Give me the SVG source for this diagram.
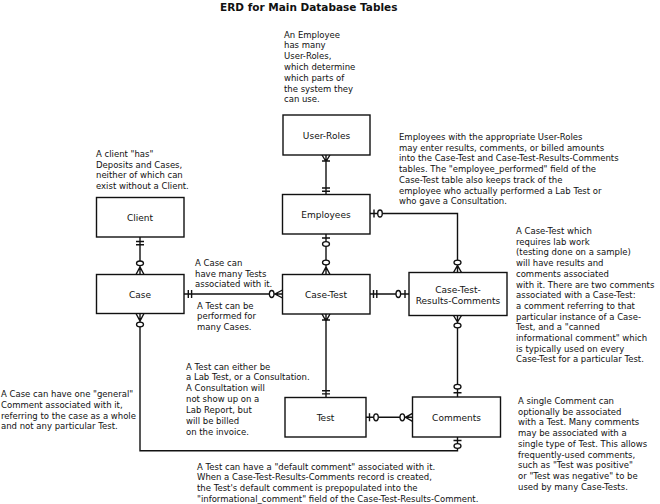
<svg xmlns="http://www.w3.org/2000/svg" width="660" height="504" viewBox="0 0 660 504">
<style>
text{font-family:"DejaVu Sans","Liberation Sans",sans-serif;fill:#111}
.note{font-size:8.5px}
.lbl{font-size:9px;text-anchor:middle}
.title{font-size:10.5px;font-weight:bold}
.box{fill:#fff;stroke:#111;stroke-width:1.4}
.ln{fill:none;stroke:#111;stroke-width:1.4}
.o{fill:#fff;stroke:#111;stroke-width:1.3}
</style>
<rect width="660" height="504" fill="#fff"/>
<text class="title" x="220" y="10.5">ERD for Main Database Tables</text>

<g id="notes" class="note">
<text x="284" y="37.5"><tspan x="284">An Employee</tspan><tspan x="284" dy="10.8">has many</tspan><tspan x="284" dy="10.8">User-Roles,</tspan><tspan x="284" dy="10.8">which determine</tspan><tspan x="284" dy="10.8">which parts of</tspan><tspan x="284" dy="10.8">the system they</tspan><tspan x="284" dy="10.8">can use.</tspan></text>
<text x="399" y="140"><tspan x="399">Employees with the appropriate User-Roles</tspan><tspan x="399" dy="10.7">may enter results, comments, or billed amounts</tspan><tspan x="399" dy="10.7">into the Case-Test and Case-Test-Results-Comments</tspan><tspan x="399" dy="10.7">tables. The "employee_performed" field of the</tspan><tspan x="399" dy="10.7">Case-Test table also keeps track of the</tspan><tspan x="399" dy="10.7">employee who actually performed a Lab Test or</tspan><tspan x="399" dy="10.7">who gave a Consultation.</tspan></text>
<text x="96" y="157"><tspan x="96">A client "has"</tspan><tspan x="96" dy="10.6">Deposits and Cases,</tspan><tspan x="96" dy="10.6">neither of which can</tspan><tspan x="96" dy="10.6">exist without a Client.</tspan></text>
<text x="195" y="266"><tspan x="195">A Case can</tspan><tspan x="195" dy="10.5">have many Tests</tspan><tspan x="195" dy="10.5">associated with it.</tspan></text>
<text x="197" y="308.5"><tspan x="197">A Test can be</tspan><tspan x="197" dy="10.7">performed for</tspan><tspan x="197" dy="10.7">many Cases.</tspan></text>
<text x="516" y="234"><tspan x="516">A Case-Test which</tspan><tspan x="516" dy="10.7">requires lab work</tspan><tspan x="516" dy="10.7">(testing done on a sample)</tspan><tspan x="516" dy="10.7">will have results and</tspan><tspan x="516" dy="10.7">comments associated</tspan><tspan x="516" dy="10.7">with it. There are two comments</tspan><tspan x="516" dy="10.7">associated with a Case-Test:</tspan><tspan x="516" dy="10.7">a comment referring to that</tspan><tspan x="516" dy="10.7">particular instance of a Case-</tspan><tspan x="516" dy="10.7">Test, and a "canned</tspan><tspan x="516" dy="10.7">informational comment" which</tspan><tspan x="516" dy="10.7">is typically used on every</tspan><tspan x="516" dy="10.7">Case-Test for a particular Test.</tspan></text>
<text x="1" y="397"><tspan x="1">A Case can have one "general"</tspan><tspan x="1" dy="10.8">Comment associated with it,</tspan><tspan x="1" dy="10.8">referring to the case as a whole</tspan><tspan x="1" dy="10.8">and not any particular Test.</tspan></text>
<text x="186" y="369.5"><tspan x="186">A Test can either be</tspan><tspan x="186" dy="10.9">a Lab Test, or a Consultation.</tspan><tspan x="186" dy="10.9">A Consultation will</tspan><tspan x="186" dy="10.9">not show up on a</tspan><tspan x="186" dy="10.9">Lab Report, but</tspan><tspan x="186" dy="10.9">will be billed</tspan><tspan x="186" dy="10.9">on the invoice.</tspan></text>
<text x="197" y="469.5"><tspan x="197">A Test can have a "default comment" associated with it.</tspan><tspan x="197" dy="10.7">When a Case-Test-Results-Comments record is created,</tspan><tspan x="197" dy="10.7">the Test's default comment is prepopulated into the</tspan><tspan x="197" dy="10.7">"informational_comment" field of the Case-Test-Results-Comment.</tspan></text>
<text x="518" y="404"><tspan x="518">A single Comment can</tspan><tspan x="518" dy="10.7">optionally be associated</tspan><tspan x="518" dy="10.7">with a Test. Many comments</tspan><tspan x="518" dy="10.7">may be associated with a</tspan><tspan x="518" dy="10.7">single type of Test. This allows</tspan><tspan x="518" dy="10.7">frequently-used comments,</tspan><tspan x="518" dy="10.7">such as "Test was positive"</tspan><tspan x="518" dy="10.7">or "Test was negative" to be</tspan><tspan x="518" dy="10.7">used by many Case-Tests.</tspan></text>
</g>

<g id="connectors">
<!-- User-Roles - Employees -->
<path class="ln" d="M326 155V194.5 M322 155L326 161.5L330 155 M322 161H330 M322 188H330 M322 191.2H330"/>
<!-- Employees - Case-Test -->
<path class="ln" d="M326 234V274.5 M322 238H330 M322 274.5L326 267L330 274.5"/>
<ellipse class="o" cx="326" cy="244" rx="3.5" ry="2.3"/>
<ellipse class="o" cx="326" cy="262.5" rx="3.5" ry="2.3"/>
<!-- Employees - CTRC -->
<path class="ln" d="M370 213.5H457.5V272.5 M374 209.5V217.5 M453.5 272.5L457.5 265.5L461.5 272.5"/>
<ellipse class="o" cx="380" cy="213.5" rx="2.3" ry="3.5"/>
<ellipse class="o" cx="457.5" cy="262.5" rx="3.5" ry="2.3"/>
<!-- Client - Case -->
<path class="ln" d="M140 237V274.5 M136 241.5H144 M136 244.8H144 M136 274.5L140 267L144 274.5"/>
<ellipse class="o" cx="140" cy="263.3" rx="3.5" ry="2.3"/>
<!-- Case - Case-Test -->
<path class="ln" d="M184 294H282.5 M188.3 290V298 M191.6 290V298 M282.5 290L275 294L282.5 298"/>
<ellipse class="o" cx="271.7" cy="294" rx="2.3" ry="3.5"/>
<!-- Case-Test - CTRC -->
<path class="ln" d="M370 294H409 M373.5 290V298 M376.8 290V298 M405 290V298"/>
<ellipse class="o" cx="398.3" cy="294" rx="2.3" ry="3.5"/>
<!-- Case-Test - Test -->
<path class="ln" d="M326 314V397.5 M322 314L326 321L330 314 M322 320H330 M322 390.7H330 M322 393.9H330"/>
<!-- CTRC - Comments -->
<path class="ln" d="M457.5 315.5V397 M453.5 315.5L457.5 322L461.5 315.5 M453.5 392.7H461.5"/>
<ellipse class="o" cx="457.5" cy="325.5" rx="3.5" ry="2.3"/>
<ellipse class="o" cx="457.5" cy="386.7" rx="3.5" ry="2.3"/>
<!-- Test - Comments -->
<path class="ln" d="M366 417.3H412.5 M369.5 413.3V421.3 M412.5 413.3L405.5 417.3L412.5 421.3"/>
<ellipse class="o" cx="376" cy="417.3" rx="2.3" ry="3.5"/>
<ellipse class="o" cx="402.3" cy="417.3" rx="2.3" ry="3.5"/>
<!-- Case - Comments -->
<path class="ln" d="M140 313.5V450.7H457.5V437 M136 313.5L140 321L144 313.5 M453.5 440.5H461.5"/>
<ellipse class="o" cx="140" cy="324.5" rx="3.5" ry="2.3"/>
<ellipse class="o" cx="457.5" cy="446" rx="3.5" ry="2.3"/>
</g>

<g id="user-roles"><rect class="box" x="283" y="115" width="87" height="40"/><text class="lbl" x="326.5" y="138.5">User-Roles</text></g>
<g id="employees"><rect class="box" x="282.5" y="194.5" width="87.5" height="39.5"/><text class="lbl" x="326" y="217.5">Employees</text></g>
<g id="client"><rect class="box" x="96.5" y="197.5" width="87.5" height="39.5"/><text class="lbl" x="140" y="220.5">Client</text></g>
<g id="case"><rect class="box" x="96.5" y="274.5" width="87.5" height="39"/><text class="lbl" x="140" y="297.5">Case</text></g>
<g id="case-test"><rect class="box" x="282.5" y="274.5" width="87.5" height="39.5"/><text class="lbl" x="326" y="297.5">Case-Test</text></g>
<g id="case-test-results-comments"><rect class="box" x="409" y="272.5" width="98" height="43"/><text class="lbl" x="458" y="292.5">Case-Test-</text><text class="lbl" x="458" y="303.5">Results-Comments</text></g>
<g id="test"><rect class="box" x="285" y="397.5" width="81" height="39.5"/><text class="lbl" x="325.5" y="420.5">Test</text></g>
<g id="comments"><rect class="box" x="412.5" y="397" width="88" height="40"/><text class="lbl" x="456.5" y="420.5">Comments</text></g>
</svg>
